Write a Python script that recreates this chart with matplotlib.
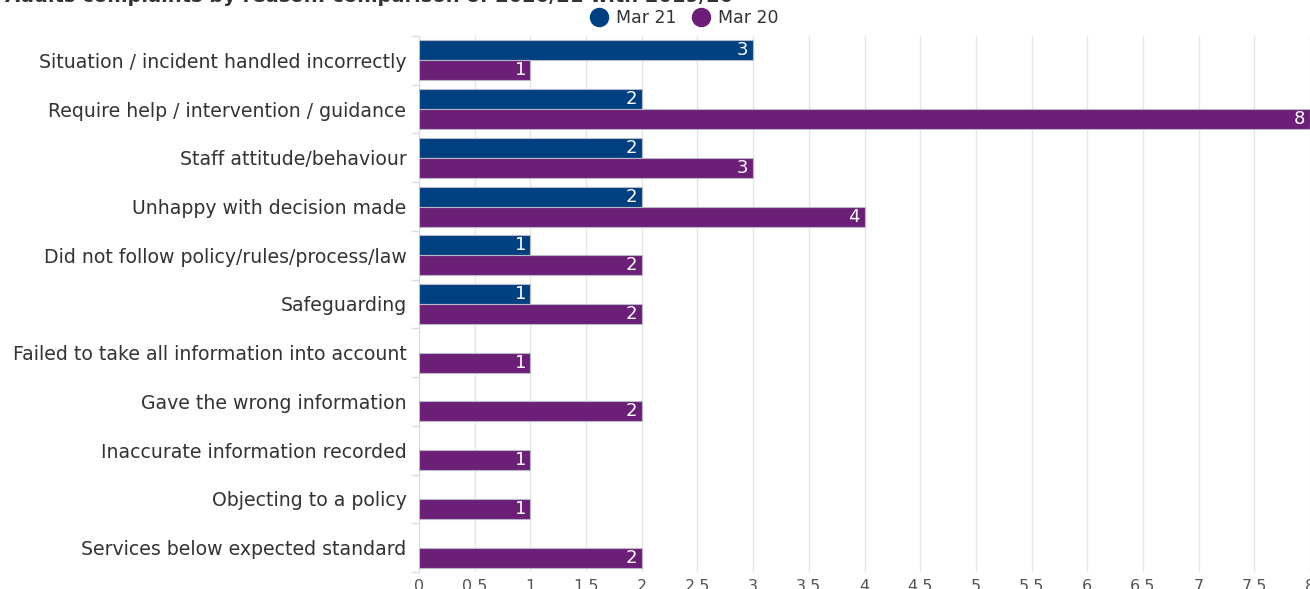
import matplotlib
matplotlib.use("Agg")
import matplotlib.pyplot as plt
import numpy as np
from matplotlib.lines import Line2D

categories = [
    "Situation / incident handled incorrectly",
    "Require help / intervention / guidance",
    "Staff attitude/behaviour",
    "Unhappy with decision made",
    "Did not follow policy/rules/process/law",
    "Safeguarding",
    "Failed to take all information into account",
    "Gave the wrong information",
    "Inaccurate information recorded",
    "Objecting to a policy",
    "Services below expected standard",
]
mar21 = [3, 2, 2, 2, 1, 1, None, None, None, None, None]
mar20 = [1, 8, 3, 4, 2, 2, 1, 2, 1, 1, 2]
series_names = ["Mar 21", "Mar 20"]
xticks = [0, 0.5, 1, 1.5, 2, 2.5, 3, 3.5, 4, 4.5, 5, 5.5, 6, 6.5, 7, 7.5, 8]
title = "Adults complaints by reason: comparison of 2020/21 with 2019/20"

c21 = "#003f80"
c20 = "#6c1f77"

fig = plt.figure(figsize=(13.10, 5.89), dpi=100)
W, H = 1310, 589
ax = fig.add_axes([419 / W, 1 - 572 / H, (1310 - 419) / W, (572 - 36) / H])

n = len(categories)
y = np.arange(n)
bh = 0.41
off = 0.205
for i in range(n):
    for vals, sign, col in ((mar21, -1, c21), (mar20, 1, c20)):
        v = vals[i]
        if v is None:
            continue
        ax.barh(y[i] + sign * off, v, height=bh, color=col,
                edgecolor="#b8b8c8", linewidth=0.8, zorder=3)
        ax.text(v - 0.04, y[i] + sign * off, f"{v}", color="white",
                ha="right", va="center", fontsize=13, zorder=4)

ax.set_xlim(0, 8)
ax.set_ylim(n - 0.5, -0.5)
ax.set_yticks(y)
ax.set_yticklabels(categories, fontsize=13.6, color="#333333")
ax.set_xticks(xticks)
ax.set_xticklabels([f"{t:g}" for t in xticks], fontsize=11.5, color="#555555")
ax.tick_params(axis="x", length=0, pad=5)
ax.tick_params(axis="y", length=0, pad=9)
ax.set_yticks(np.arange(n + 1) - 0.5, minor=True)
ax.tick_params(axis="y", which="minor", length=6, color="#d8dce8", width=1)
ax.grid(axis="x", color="#e6e6e6", linewidth=1, zorder=0)
for s in ("top", "right", "bottom"):
    ax.spines[s].set_visible(False)
ax.spines["left"].set_color("#d8dce8")

fig.text(5 / W, 1 - 1.5 / H, title, fontsize=14, fontweight="bold",
         color="#333333", ha="left", va="baseline")

handles = [Line2D([], [], marker="o", linestyle="", markersize=13,
                  markerfacecolor=c, markeredgecolor=c) for c in (c21, c20)]
fig.legend(handles, series_names, loc="center", bbox_to_anchor=(680 / W, 1 - 18 / H),
           ncol=2, frameon=False, fontsize=12.5, handletextpad=0.0,
           columnspacing=0.4, labelcolor="#333333")

fig.savefig("out.png", dpi=100)
